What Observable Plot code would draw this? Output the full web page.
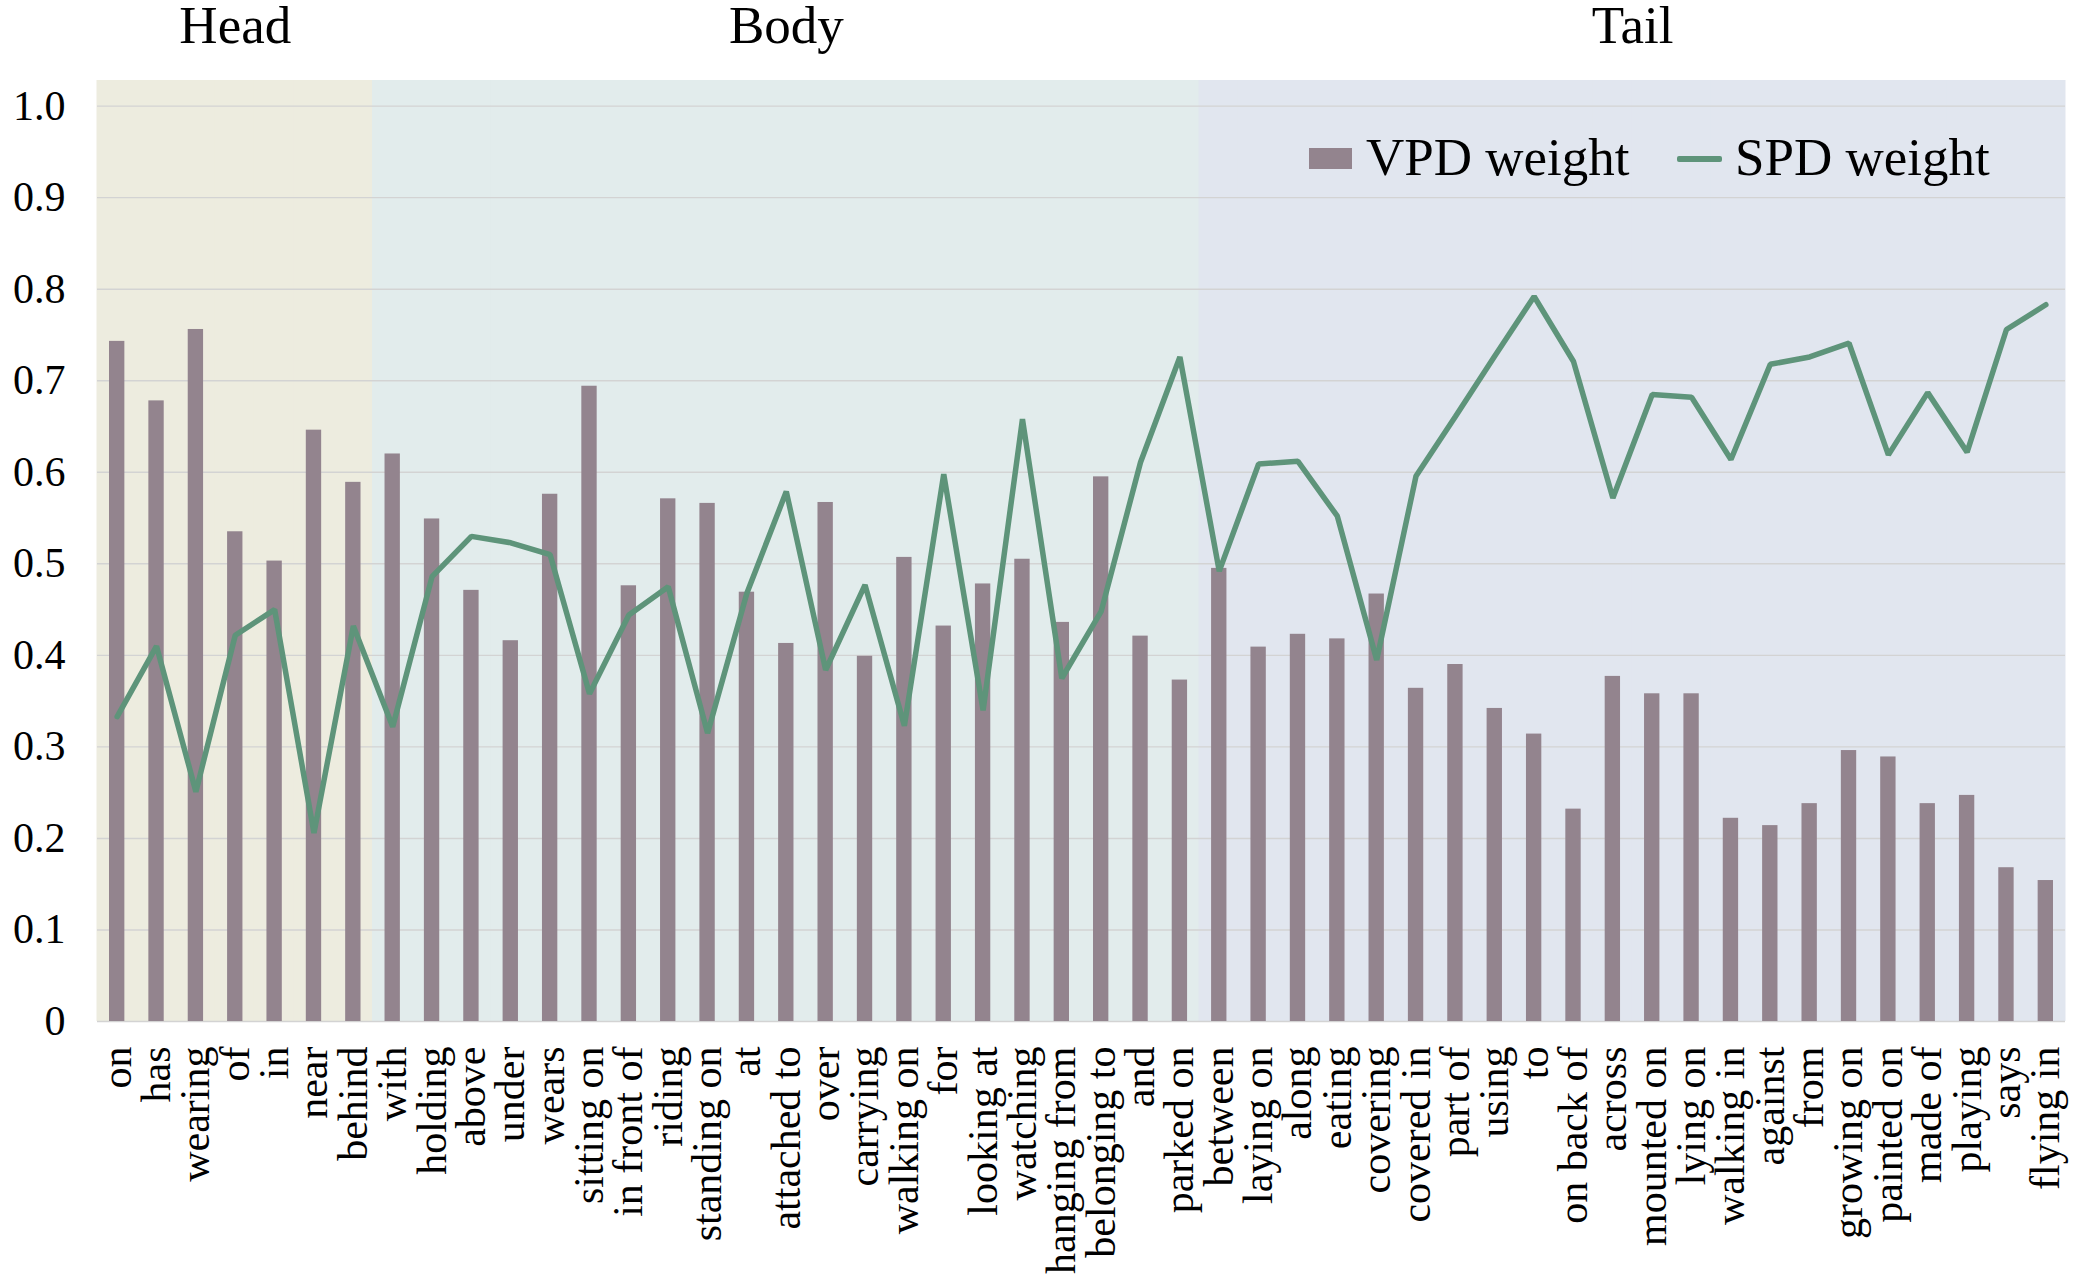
<!DOCTYPE html>
<html>
<head>
<meta charset="utf-8">
<script src="https://cdn.jsdelivr.net/npm/d3@7"></script>
<script src="https://cdn.jsdelivr.net/npm/@observablehq/plot@0.6"></script>
<style>
  html, body { margin: 0; padding: 0; background: #fff; }
  #wrap { position: relative; width: 2079px; height: 1281px; font-family: 'Liberation Serif', 'Times New Roman', serif; }
  .leg { position: absolute; font-size: 53px; line-height: 53px; color: #000; white-space: nowrap; }
  .sw { position: absolute; }
</style>
</head>
<body>
<div id="wrap"></div>
<script>
const categories = ["on","has","wearing","of","in","near","behind",
  "with","holding","above","under","wears","sitting on","in front of","riding","standing on","at","attached to","over","carrying","walking on","for","looking at","watching","hanging from","belonging to","and","parked on",
  "between","laying on","along","eating","covering","covered in","part of","using","to","on back of","across","mounted on","lying on","walking in","against","from","growing on","painted on","made of","playing","says","flying in"];
const groupNames = ["Head", "Body", "Tail"];
const groupSizes = [7, 21, 22];
const vpdWeight = [0.743,0.678,0.756,0.535,0.503,0.646,0.589,0.620,0.549,0.471,
  0.416,0.576,0.694,0.476,0.571,0.566,0.469,0.413,0.567,0.399,
  0.507,0.432,0.478,0.505,0.436,0.595,0.421,0.373,0.495,0.409,
  0.423,0.418,0.467,0.364,0.390,0.342,0.314,0.232,0.377,0.358,
  0.358,0.222,0.214,0.238,0.296,0.289,0.238,0.247,0.168,0.154];
const spdWeight = [0.333,0.410,0.251,0.422,0.450,0.206,0.432,0.322,0.486,0.530,
  0.523,0.510,0.358,0.444,0.475,0.315,0.468,0.579,0.384,0.477,
  0.323,0.598,0.340,0.658,0.375,0.448,0.611,0.726,0.492,0.609,
  0.612,0.552,0.395,0.596,0.661,0.727,0.792,0.721,0.572,0.685,
  0.682,0.614,0.718,0.726,0.741,0.619,0.687,0.622,0.756,0.783];
const yTicks = [0,0.1,0.2,0.3,0.4,0.5,0.6,0.7,0.8,0.9,1.0];
const seriesNames = ["VPD weight", "SPD weight"];

const W = 2079, H = 1281, mL = 97, mR = 14, mT = 80, mB = 260;
const yTop = 1.028;
const padInner = 0.61, padOuter = 0.305;
const bgColors = ["#edecdf", "#e2ecec", "#e1e6ef"];
const barColor = "#93848e", lineColor = "#5e947a";

const groupOf = [];
groupSizes.forEach((s, k) => { for (let i = 0; i < s; i++) groupOf.push(groupNames[k]); });
const rows = categories.map((c, i) => ({category: c, vpd: vpdWeight[i], spd: spdWeight[i], group: groupOf[i]}));
const step = (W - mL - mR) / categories.length;
const bgInset = step * padOuter + 0.5;

let start = 0;
const titleMarks = groupNames.map((name, k) => {
  const size = groupSizes[k];
  const mid = categories[start + Math.floor((size - 1) / 2)];
  const dx = size % 2 === 0 ? step / 2 : 0;
  start += size;
  return Plot.text([name], {x: [mid], text: d => d, frameAnchor: "top", lineAnchor: "middle", dy: -54, dx, fontSize: 53, fill: "#000"});
});

const chart = Plot.plot({
  width: W, height: H,
  marginLeft: mL, marginRight: mR, marginTop: mT, marginBottom: mB,
  style: {fontFamily: "'Liberation Serif', 'Times New Roman', serif", fontSize: "42px", color: "#000", background: "#fff", overflow: "visible"},
  x: {domain: categories, paddingInner: padInner, paddingOuter: padOuter, round: false, label: null},
  y: {domain: [0, yTop], label: null},
  color: {domain: groupNames, range: bgColors},
  marks: [
    Plot.barY(rows, {x: "category", y1: 0, y2: () => yTop, fill: "group", insetLeft: -bgInset, insetRight: -bgInset}),
    Plot.gridY(yTicks, {stroke: "#d3d3d3", strokeOpacity: 1, strokeWidth: 1.4}),
    Plot.barY(rows, {x: "category", y: "vpd", fill: barColor}),
    Plot.lineY(rows, {x: "category", y: "spd", stroke: lineColor, strokeWidth: 5.5, strokeLinejoin: "miter"}),
    Plot.axisX({tickRotate: -90, tickSize: 0, tickPadding: 25, fontSize: 42, label: null, fill: "#000"}),
    Plot.axisY(yTicks, {tickSize: 0, tickPadding: 32, fontSize: 42, label: null, fill: "#000",
      tickFormat: d => d === 0 ? "0" : d.toFixed(1)}),
    ...titleMarks
  ]
});

const wrap = document.getElementById("wrap");
wrap.appendChild(chart);

// legend
const leg = [
  {html: `<div class="sw" style="left:1309px;top:148px;width:43px;height:21px;background:${barColor}"></div>`},
  {html: `<div class="leg" style="left:1366px;top:131px">${seriesNames[0]}</div>`},
  {html: `<div class="sw" style="left:1677px;top:156px;width:45px;height:5.5px;background:${lineColor};border-radius:2px"></div>`},
  {html: `<div class="leg" style="left:1735px;top:131px">${seriesNames[1]}</div>`}
];
leg.forEach(l => wrap.insertAdjacentHTML("beforeend", l.html));
</script>
</body>
</html>
